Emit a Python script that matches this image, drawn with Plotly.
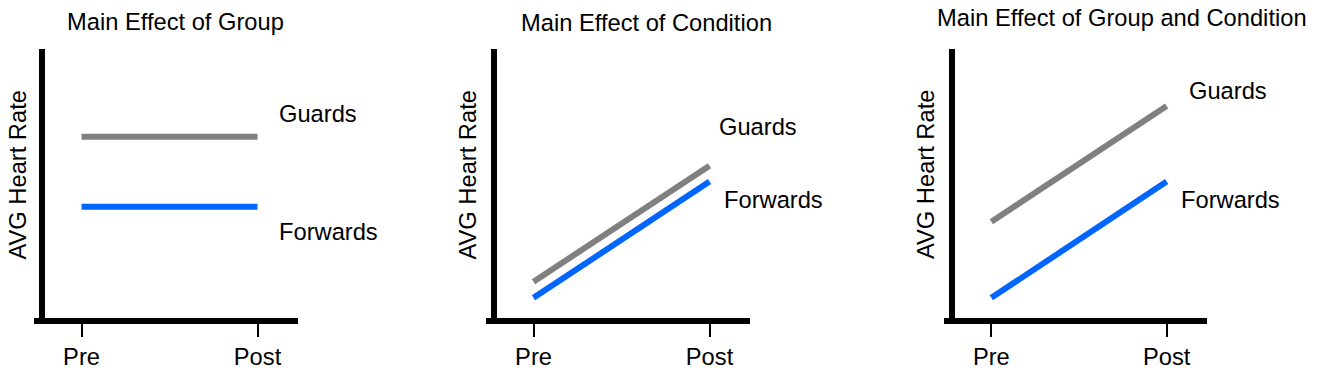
import plotly.graph_objects as go

W, H = 1318, 374

# ---- data ----
conditions = ["Pre", "Post"]
titles = ["Main Effect of Group", "Main Effect of Condition", "Main Effect of Group and Condition"]
group_names = ["Guards", "Forwards"]
guards_p1 = [6.74, 6.74]
forwards_p1 = [4.14, 4.14]
guards_p2 = [1.35, 5.66]
forwards_p2 = [0.75, 5.07]
guards_p3 = [3.58, 7.88]
forwards_p3 = [0.75, 5.07]
y_title = "AVG Heart Rate"

series = [(guards_p1, forwards_p1), (guards_p2, forwards_p2), (guards_p3, forwards_p3)]

# ---- layout geometry (window pixels) ----
x_dom_px = [(34, 298), (486, 750), (944, 1207)]
y_line_px = [41.7, 494, 952]
plot_bottom_px, plot_top_px = 318, 49
title_px = [(175, 22), (646.5, 22.5), (1122, 18.3)]
ytitle_px = [17.5, 467.5, 926]
guards_lbl_px = [(277, 114), (716.7, 127.5), (1187, 90.8)]
forwards_lbl_px = [(277, 231.7), (721.7, 199.5), (1179, 199.5)]

GRAY = "#808080"
BLUE = "#0066FF"
FONT = "Arial, Liberation Sans, Helvetica, sans-serif"
FS = 23.7

def px(x):
    return x / W

def py(y):
    return 1 - y / H

fig = go.Figure()
layout = dict(
    width=W, height=H,
    margin=dict(l=0, r=0, t=0, b=0),
    paper_bgcolor="white", plot_bgcolor="white",
    showlegend=False,
    font=dict(family=FONT, size=FS, color="black"),
)
annotations = []
for i in range(3):
    n = "" if i == 0 else str(i + 1)
    xa, ya = "x" + n, "y" + n
    g, f = series[i]
    fig.add_trace(go.Scatter(x=conditions, y=g, mode="lines", xaxis=xa, yaxis=ya,
                             line=dict(color=GRAY, width=6), name=group_names[0]))
    fig.add_trace(go.Scatter(x=conditions, y=f, mode="lines", xaxis=xa, yaxis=ya,
                             line=dict(color=BLUE, width=6), name=group_names[1]))
    layout["xaxis" + n] = dict(
        domain=[px(x_dom_px[i][0]), px(x_dom_px[i][1])],
        anchor=ya, type="category", range=[-0.27, 1.23],
        showline=True, linewidth=6, linecolor="black",
        ticks="outside", ticklen=13, tickwidth=2, tickcolor="black",
        showgrid=False, zeroline=False,
        tickfont=dict(family=FONT, size=FS, color="black"),
        fixedrange=True,
    )
    layout["yaxis" + n] = dict(
        domain=[py(plot_bottom_px), py(plot_top_px)],
        anchor="free", position=px(y_line_px[i]), range=[0, 10],
        showline=True, linewidth=6, linecolor="black",
        showticklabels=False, ticks="", showgrid=False, zeroline=False,
        fixedrange=True,
    )
    annotations.append(dict(text=titles[i], x=px(title_px[i][0]), y=py(title_px[i][1]),
                            xref="paper", yref="paper", xanchor="center", yanchor="middle",
                            showarrow=False, font=dict(family=FONT, size=FS, color="black")))
    annotations.append(dict(text=y_title, x=px(ytitle_px[i]), y=py(175),
                            xref="paper", yref="paper", xanchor="center", yanchor="middle",
                            textangle=-90, showarrow=False,
                            font=dict(family=FONT, size=FS, color="black")))
    annotations.append(dict(text=group_names[0], x=px(guards_lbl_px[i][0]), y=py(guards_lbl_px[i][1]),
                            xref="paper", yref="paper", xanchor="left", yanchor="middle",
                            showarrow=False, font=dict(family=FONT, size=FS, color="black")))
    annotations.append(dict(text=group_names[1], x=px(forwards_lbl_px[i][0]), y=py(forwards_lbl_px[i][1]),
                            xref="paper", yref="paper", xanchor="left", yanchor="middle",
                            showarrow=False, font=dict(family=FONT, size=FS, color="black")))

layout["annotations"] = annotations
fig.update_layout(**layout)
fig.write_html("out.html",
               config={"displayModeBar": False, "staticPlot": True},
               post_script="document.body.style.margin='0px';document.body.style.overflow='hidden';")
